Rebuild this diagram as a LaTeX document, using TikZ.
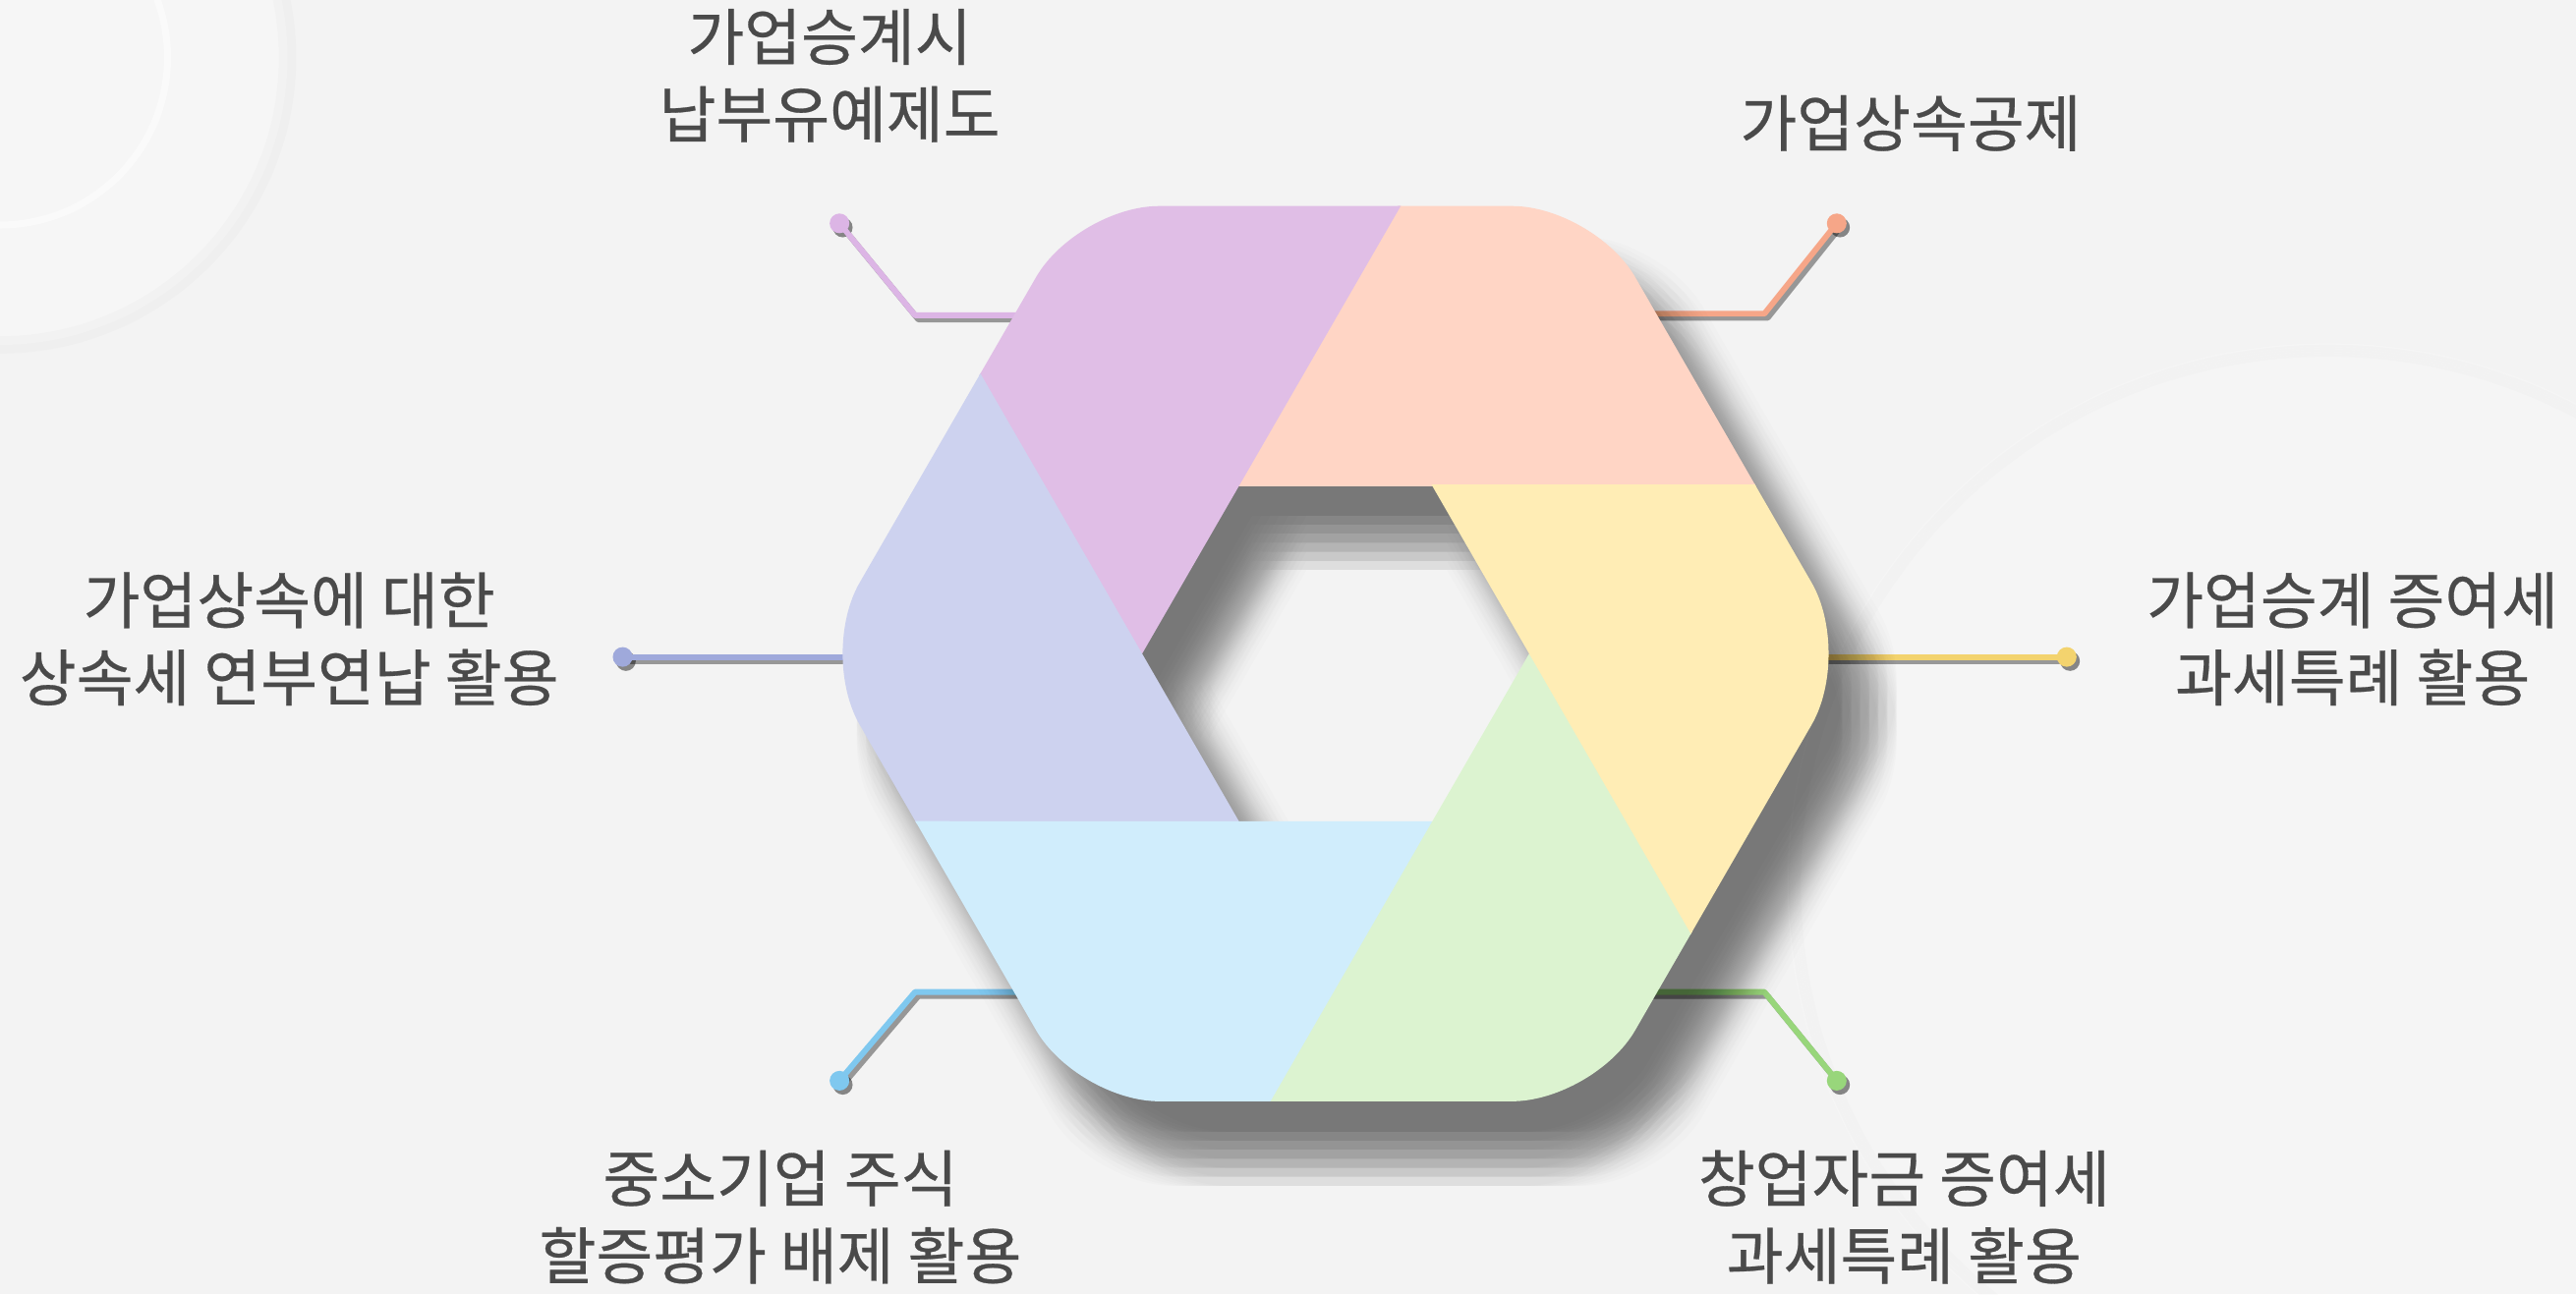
\documentclass[tikz,border=0pt]{standalone}
\usepackage{fontspec}
\setmainfont{Noto Sans CJK KR}[FakeBold=0.45]
\usepackage{tikz}
\usetikzlibrary{calc}
\usepackage{xcolor}
\definecolor{bggray}{RGB}{243, 243, 243}
\definecolor{labelgray}{RGB}{74, 74, 74}
\definecolor{segpurple}{RGB}{224, 190, 230}
\definecolor{segpeach}{RGB}{255, 213, 197}
\definecolor{segyellow}{RGB}{255, 237, 181}
\definecolor{seggreen}{RGB}{220, 243, 208}
\definecolor{segblue}{RGB}{208, 237, 252}
\definecolor{seglavender}{RGB}{205, 210, 239}
\definecolor{linepurple}{RGB}{220, 181, 229}
\definecolor{linepeach}{RGB}{246, 166, 136}
\definecolor{lineyellow}{RGB}{243, 211, 110}
\definecolor{linegreen}{RGB}{152, 214, 123}
\definecolor{lineblue}{RGB}{127, 200, 239}
\definecolor{linelavender}{RGB}{159, 169, 219}
\tikzstyle{infotext} = [text=labelgray, align=center, inner sep=0pt, font=\fontsize{10.7pt}{13.4pt}\selectfont]
\tikzstyle{leader} = [line width=1pt, line join=round]
\tikzstyle{leadershadow} = [line width=1pt, black!70, opacity=0.55, line join=round]
\tikzstyle{enddot} = [circle, inner sep=0pt, minimum size=0.12cm]
\newcommand{\hexouter}{[rounded corners=0.5cm] (30:2.725) -- (60:3.147) -- (120:3.147) -- (180:3.147) -- (240:3.147) -- (300:3.147) -- (0:3.147) -- cycle}
\newcommand{\hexinner}{[sharp corners] (0:1.184) -- (60:1.184) -- (120:1.184) -- (180:1.184) -- (240:1.184) -- (300:1.184) -- cycle}

\begin{document}
\begin{tikzpicture}
% Background
\useasboundingbox (-8.13,-3.90) rectangle (7.55,3.98);
\fill[bggray] (-8.13,-3.90) rectangle (7.55,3.98);
\fill[white, opacity=0.25] (-8.13,3.63) circle (1.75);
\draw[black, opacity=0.015, line width=3pt] (-8.13,3.63) circle (1.75);
\draw[white, opacity=0.5, line width=1.2pt] (-8.13,3.63) circle (1.02);
\fill[white, opacity=0.2] (6.04,-1.40) circle (3.29);
\foreach \w in {1,2,...,5}
  \draw[black, opacity=0.012] (6.04,-1.40) circle (3.29-0.015*\w);

% Leader points
\coordinate (epurple) at (-3.02,2.62);
\coordinate (bpurple) at (-2.56,2.06);
\coordinate (hpurple) at (-1.60,2.06);
\coordinate (epeach) at (3.05,2.62);
\coordinate (bpeach) at (2.61,2.07);
\coordinate (hpeach) at (1.60,2.07);
\coordinate (elavender) at (-4.34,-0.02);
\coordinate (blavender) at (-3.60,-0.02);
\coordinate (hlavender) at (-2.80,-0.02);
\coordinate (eyellow) at (4.45,-0.02);
\coordinate (byellow) at (3.60,-0.02);
\coordinate (hyellow) at (2.80,-0.02);
\coordinate (eblue) at (-3.02,-2.60);
\coordinate (bblue) at (-2.56,-2.06);
\coordinate (hblue) at (-1.60,-2.06);
\coordinate (egreen) at (3.05,-2.60);
\coordinate (bgreen) at (2.61,-2.06);
\coordinate (hgreen) at (1.60,-2.06);

% Leaders
\foreach \n in {purple,peach,lavender,yellow,blue,green}{
  \draw[leadershadow] ([shift={(0.02,-0.025)}]e\n) -- ([shift={(0.02,-0.025)}]b\n) -- ([shift={(0.02,-0.025)}]h\n);
  \fill[black, opacity=0.45] ([shift={(0.02,-0.025)}]e\n) circle (0.06);
  \draw[leader, draw=line\n] (e\n) -- (b\n) -- (h\n);
  \node[enddot, fill=line\n] (dot\n) at (e\n) {};
}

% Shadow of the ring
\foreach \i in {-3,...,3}
  \foreach \j in {-3,...,3}
    \fill[black, opacity=0.0115, even odd rule, shift={(0.25+0.055*\i,-0.35+0.055*\j)}] \hexouter \hexinner;

% Segments
\begin{scope}
\clip \hexouter;
\foreach \k/\col in {1/segpeach, 2/segpurple, 3/seglavender, 4/segblue, 5/seggreen, 6/segyellow}{
  \fill[\col, draw=\col, line width=0.3pt] (60*\k+60:1.184) -- (60*\k:1.184) -- (60*\k-38.14:2.753) -- (60*\k:5) -- (60*\k+21.86:2.753) -- cycle;
}
\end{scope}

% Labels
\node[infotext] (deferral) at (-3.08,3.52) {가업승계시\\납부유예제도};
\node[infotext] (deduction) at (3.50,3.23) {가업상속공제};
\node[infotext] (installment) at (-6.37,0.09) {가업상속에 대한\\상속세 연부연납 활용};
\node[infotext] (giftspecial) at (6.19,0.09) {가업승계 증여세\\과세특례 활용};
\node[infotext] (stockeval) at (-3.38,-3.43) {중소기업 주식\\할증평가 배제 활용};
\node[infotext] (startupgift) at (3.46,-3.43) {창업자금 증여세\\과세특례 활용};
\end{tikzpicture}
\end{document}
